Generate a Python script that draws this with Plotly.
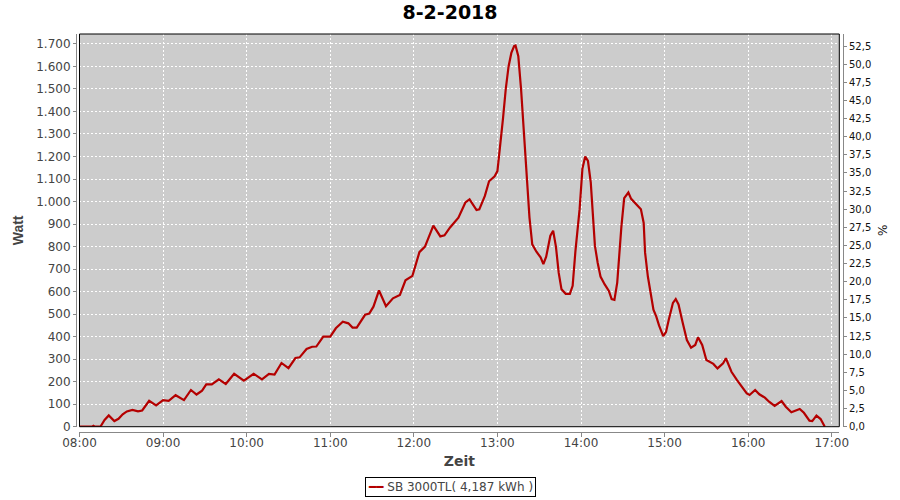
import plotly.graph_objects as go

title_text = "8-2-2018"
day = "2018-02-08"
series_name = "SB 3000TL( 4,187 kWh )"

times = [
    "08:00", "08:05", "08:09", "08:10", "08:11", "08:15", "08:18", "08:21", "08:23", "08:25",
    "08:28", "08:31", "08:34", "08:38", "08:42", "08:45", "08:50", "08:55", "09:00", "09:04",
    "09:09", "09:15", "09:20", "09:24", "09:28", "09:31", "09:35", "09:40", "09:45", "09:51",
    "09:58", "10:05", "10:11", "10:16", "10:20", "10:25", "10:30", "10:35", "10:38", "10:43",
    "10:47", "10:50", "10:55", "11:00", "11:04", "11:09", "11:13", "11:16", "11:19", "11:25",
    "11:28", "11:31", "11:35", "11:40", "11:45", "11:50", "11:54", "11:59", "12:04", "12:08",
    "12:14", "12:19", "12:22", "12:26", "12:32", "12:37", "12:40", "12:45", "12:47", "12:51",
    "12:54", "12:58", "13:00", "13:02", "13:04", "13:06", "13:08", "13:10", "13:12", "13:13",
    "13:15", "13:17", "13:19", "13:21", "13:23", "13:25", "13:28", "13:31", "13:33", "13:35",
    "13:38", "13:40", "13:42", "13:44", "13:46", "13:49", "13:52", "13:54", "13:56", "13:59",
    "14:01", "14:03", "14:05", "14:07", "14:09", "14:10", "14:12", "14:14", "14:17", "14:20",
    "14:22", "14:24", "14:26", "14:27", "14:29", "14:31", "14:34", "14:36", "14:40", "14:43",
    "14:45", "14:46", "14:48", "14:50", "14:52", "14:54", "14:56", "14:59", "15:01", "15:03",
    "15:05", "15:06", "15:08", "15:10", "15:13", "15:16", "15:19", "15:22", "15:24", "15:27",
    "15:30", "15:33", "15:35", "15:38", "15:42", "15:44", "15:48", "15:52", "15:55", "15:59",
    "16:01", "16:05", "16:08", "16:12", "16:15", "16:19", "16:24", "16:27", "16:31", "16:37",
    "16:40", "16:44", "16:46", "16:49", "16:52", "16:55",
]

watt = [
    0, 0, 0, 4, 0, 0, 30, 50, 35, 25,
    35, 55, 68, 75, 68, 72, 115, 95, 118, 115,
    140, 118, 163, 143, 160, 188, 188, 210, 190, 235,
    205, 235, 210, 235, 232, 283, 260, 305, 308, 345,
    355, 356, 400, 400, 437, 466, 459, 440, 440, 497,
    502, 533, 605, 535, 570, 585, 650, 670, 775, 800,
    893, 845, 850, 885, 928, 996, 1010, 962, 965, 1025,
    1090, 1112, 1135, 1240, 1368, 1500, 1600, 1660, 1690, 1693,
    1645, 1497, 1320, 1130, 930, 810, 777, 752, 722, 755,
    848, 870, 800, 683, 610, 590, 590, 626, 780, 966,
    1145, 1200, 1180, 1085, 904, 803, 727, 667, 632, 603,
    567, 563, 640, 740, 890, 1015, 1040, 1012, 983, 966,
    905, 773, 667, 585, 520, 490, 450, 402, 420, 475,
    520, 550, 567, 543, 462, 385, 351, 363, 397, 363,
    296, 284, 279, 259, 281, 304, 244, 207, 181, 148,
    141, 163, 144, 129, 111, 92, 114, 89, 64, 79,
    62, 27, 25, 49, 34, 0,
]

x_range = ["08:00:00", "17:05:25"]
watt_range = [0, 1744]
pct_range = [0, 54.16]

line_color = "#b40000"
font_family = "DejaVu Sans"

x_vals = [f"{day} {t}" for t in times]

fig = go.Figure()
fig.add_trace(go.Scatter(
    x=x_vals, y=watt, mode="lines", name=series_name,
    line=dict(color=line_color, width=2.2), showlegend=False,
    xaxis="x", yaxis="y",
))
fig.add_trace(go.Scatter(
    x=[x_vals[0]], y=[None], mode="lines", showlegend=False,
    xaxis="x", yaxis="y2", hoverinfo="skip",
))

fig.update_layout(
    width=900, height=500,
    margin=dict(l=76, r=57, t=34, b=68, autoexpand=False),
    paper_bgcolor="white",
    plot_bgcolor="#cccccc",
    separators=",.",
    font=dict(family=font_family, size=12, color="#444444"),
    title=dict(
        text=title_text, x=0.5, xanchor="center", y=1 - 12 / 500, yanchor="middle",
        font=dict(family=font_family, size=19, color="#000000", weight="bold"),
    ),
    xaxis=dict(
        type="date", automargin=False,
        domain=[0.00456, 0.99518],
        anchor="free", position=0,
        range=[f"{day} {x_range[0]}", f"{day} {x_range[1]}"],
        tickformat="%H:%M", dtick=3600000, tick0=f"{day} 08:00",
        showgrid=True, gridcolor="white", griddash="2px,2px", gridwidth=1,
        showline=True, linecolor="#888888", linewidth=1,
        ticks="outside", ticklen=4, tickcolor="#888888",
        ticklabelstandoff=-4,
        tickfont=dict(family=font_family, size=12, color="#444444"),
        title=dict(text="Zeit", standoff=6,
                   font=dict(family=font_family, size=14, color="#444444", weight="bold")),
        zeroline=False,
    ),
    yaxis=dict(
        automargin=False,
        domain=[0.0133, 1],
        anchor="free", position=0,
        range=watt_range, dtick=100, tick0=0, tickformat=",d",
        showgrid=True, gridcolor="white", griddash="2px,2px", gridwidth=1,
        showline=True, linecolor="#888888", linewidth=1,
        ticks="outside", ticklen=3, tickcolor="#888888",
        tickfont=dict(family=font_family, size=12, color="#444444"),
        title=dict(text="Watt", standoff=8,
                   font=dict(family="Liberation Sans", size=14, color="#444444", weight="bold")),
        zeroline=False,
    ),
    yaxis2=dict(
        automargin=False,
        overlaying="y", side="right", anchor="free", position=1,
        range=pct_range, dtick=2.5, tick0=0, tickformat=".1f",
        showgrid=False,
        showline=True, linecolor="#888888", linewidth=1,
        ticks="outside", ticklen=3, tickcolor="#888888",
        tickfont=dict(family=font_family, size=10, color="#111111"),
        title=dict(text="%", standoff=8,
                   font=dict(family=font_family, size=12, color="#111111")),
        zeroline=False,
    ),
    shapes=[dict(
        type="rect", xref="x domain", yref="y domain", x0=0, x1=1, y0=0, y1=1,
        line=dict(color="black", width=1), fillcolor="rgba(0,0,0,0)", layer="above",
    )],
    annotations=[dict(
        xref="paper", yref="paper", x=0.4883, y=-0.1394,
        xanchor="center", yanchor="middle", showarrow=False,
        text=f'<span style="color:{line_color}">━━</span> {series_name}',
        font=dict(family=font_family, size=12, color="#444444"),
        bordercolor="black", borderwidth=1, borderpad=2, bgcolor="white",
    )],
)

fig.write_html("out.html", config={"displayModeBar": False},
               post_script="document.body.style.margin='0';")
